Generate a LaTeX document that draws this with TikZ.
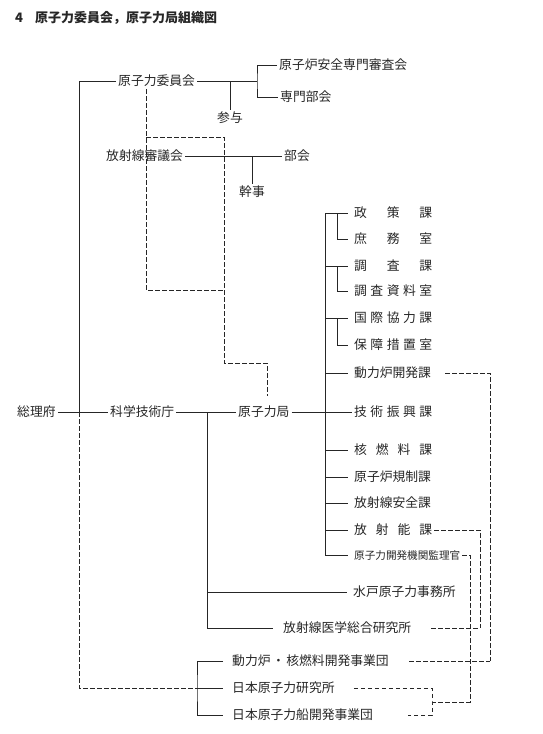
\documentclass[tikz,border=0pt]{standalone}
\usepackage{fontspec}
\usepackage{tikz}
\setmainfont{Noto Sans CJK JP}
\newcommand{\wide}[1]{\makebox[78pt][s]{#1}}

\begin{document}
\begin{tikzpicture}[x=1pt, y=-1pt,
  every node/.style={anchor=west, inner sep=2pt, text=black!85, font=\fontsize{12.8}{14}\selectfont},
  link/.style={draw=black!85, line width=0.75pt},
  branch/.style={link, shorten >=4pt},
  dashlink/.style={link, dash pattern=on 4.5pt off 2.5pt}]

\useasboundingbox (0,0) rectangle (542,734);

\node [font=\fontsize{13}{14}\selectfont\bfseries] (title) at (13,18) {4\hspace{12pt}原子力委員会，原子力局組織図};

% commission
\node (iinkai) at (116,81) {原子力委員会};
\node (anzen) at (277,65) {原子炉安全専門審査会};
\node (bukai1) at (278,97) {専門部会};
\node (sanyo) at (215,118) {参与};
\node (shingikai) at (104,156) {放射線審議会};
\node (bukai2) at (282,156) {部会};
\node (kanji) at (237,192) {幹事};

% government
\node (sorifu) at (15,412) {総理府};
\node (kagicho) at (108,412) {科学技術庁};
\node (genkyoku) at (236,412) {原子力局};

% sections
\node (s1) at (352,213) {\wide{政\hfill 策\hfill 課}};
\node (s2) at (352,239) {\wide{庶\hfill 務\hfill 室}};
\node (s3) at (352,266) {\wide{調\hfill 査\hfill 課}};
\node (s4) at (352,291) {\wide{調\hfill 査\hfill 資\hfill 料\hfill 室}};
\node (s5) at (352,318) {\wide{国\hfill 際\hfill 協\hfill 力\hfill 課}};
\node (s6) at (352,345) {\wide{保\hfill 障\hfill 措\hfill 置\hfill 室}};
\node (s7) at (352,373) {\wide{動力炉開発課}};
\node (s8) at (352,412) {\wide{技\hfill 術\hfill 振\hfill 興\hfill 課}};
\node (s9) at (352,450) {\wide{核\hfill 燃\hfill 料\hfill 課}};
\node (s10) at (352,477) {\wide{原子炉規制課}};
\node (s11) at (352,503) {\wide{放射線安全課}};
\node (s12) at (352,530) {\wide{放\hfill 射\hfill 能\hfill 課}};
\node [font=\fontsize{10.6}{12}\selectfont] (s13) at (352,555) {原子力開発機関監理官};

% attached bodies
\node (mito) at (351,592) {水戸原子力事務所};
\node (hoiken) at (281,628) {放射線医学総合研究所};
\node (doryoku) at (230,661) {動力炉\hspace{1.5pt}・\hspace{1.5pt}核燃料開発事業団};
\node (genken) at (230,688) {日本原子力研究所};
\node (gensen) at (230,715) {日本原子力船開発事業団};

% junctions
\coordinate (jleft) at (79,412);
\coordinate (jtop) at (257,81);
\coordinate (jkg) at (207,412);
\coordinate (jmain) at (325,412);
\coordinate (jsub) at (337,0);
\coordinate (jshiki) at (197,688);
\coordinate (d1) at (146,137);
\coordinate (d2) at (224,137);
\coordinate (d3) at (146,290);
\coordinate (d4) at (224,290);
\coordinate (d5) at (224,363);
\coordinate (d6) at (267,363);
\coordinate (r1) at (490,661);
\coordinate (r2) at (480,628);
\coordinate (r3) at (470,702);
\coordinate (jgen) at (432,702);

% solid lines
\draw[link] (iinkai.west) -| (jleft);
\draw[link] (sorifu.east) -- (kagicho.west);
\draw[link] (iinkai.east) -- (jtop);
\draw[link] (anzen.west) -| (jtop) |- (bukai1.west);
\draw[link] (iinkai.east -| sanyo.north) -- (sanyo.north);
\draw[link] (shingikai.east) -- (bukai2.west);
\draw[link] (shingikai.east -| kanji.north) -- (kanji.north);
\draw[link] (kagicho.east) -- (genkyoku.west);
\draw[link] (genkyoku.east) -- (s8.west);
\draw[link, shorten >=8pt] (jkg) |- (hoiken.west);
\draw[branch] (jkg |- mito.west) -- (mito.west);
\draw[link] (s1.west -| jmain) -- (s13.west -| jmain);
\foreach \n in {1,3,5,7,9,10,11,12,13}
  \draw[branch] (s\n.west -| jmain) -- (s\n.west);
\foreach \a/\b in {1/2,3/4,5/6}
  \draw[branch] (s\a.west -| jsub) |- (s\b.west);
\draw[link, shorten <=7pt, shorten >=7pt] (doryoku.west) -| (jshiki) |- (gensen.west);
\draw[branch, shorten >=7pt] (jshiki) -- (genken.west);

% dashed lines
\draw[dashlink] (jleft) |- (jshiki);
\draw[dashlink] (iinkai.south -| d1) -- (d3) -- (d4);
\draw[dashlink, shorten >=8pt] (d1) -- (d2) -- (d5) -- (d6) -- (d6 |- genkyoku.north);
\draw[dashlink, shorten <=11pt] (s7.east) -| (r1);
\draw[dashlink, shorten <=18pt] (doryoku.east) -- (r1);
\draw[dashlink] (s12.east) -| (r2);
\draw[dashlink, shorten <=18pt] (hoiken.east) -- (r2);
\draw[dashlink] (s13.east) -| (r3) -- (jgen);
\draw[dashlink, shorten <=17pt, shorten >=33pt] (genken.east) -| (jgen) |- (gensen.east);

\end{tikzpicture}
\end{document}
